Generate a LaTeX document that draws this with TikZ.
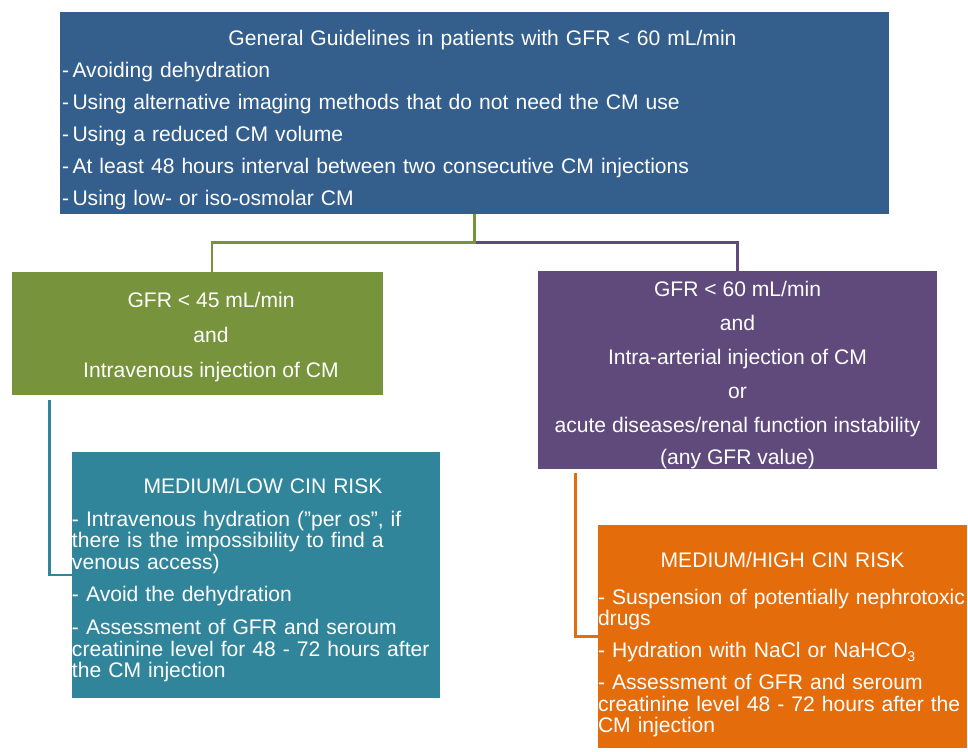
\documentclass[tikz,border=0pt]{standalone}
\usepackage{fontspec}
\setmainfont{Liberation Sans}
\definecolor{guideblue}{RGB}{52,94,140}
\definecolor{ivgreen}{RGB}{119,147,60}
\definecolor{iapurple}{RGB}{96,74,123}
\definecolor{lowteal}{RGB}{49,133,155}
\definecolor{highorange}{RGB}{228,108,10}
\tikzstyle{block} = [rectangle, inner sep=0pt, text=white, font=\fontsize{12}{12.2}\selectfont]
\tikzstyle{listblock} = [block, align=left]
\tikzstyle{condblock} = [block, align=center]
\tikzstyle{link} = [line width=1.7pt]

\begin{document}
\begin{tikzpicture}

\useasboundingbox (0,0) rectangle (19.36,-15.04);

\node (guide) [listblock, fill=guideblue, minimum width=16.58cm, minimum height=4.04cm, inner xsep=0.04cm, text width=16.5cm] at (9.49,-2.26) {\rule{0pt}{16.8pt}\hspace*{\fill}\hspace*{0.32cm}General Guidelines in patients with GFR < 60 mL/min\hspace*{\fill}\null\\[6pt]
-\,Avoiding dehydration\\[6pt]
-\,Using alternative imaging methods that do not need the CM use\\[6pt]
-\,Using a reduced CM volume\\[6pt]
-\,At least 48 hours interval between two consecutive CM injections\\[6pt]
-\,Using low- or iso-osmolar CM};

\node (low) [condblock, fill=ivgreen, minimum width=7.42cm, minimum height=2.46cm] at (3.95,-6.67) {\rule{0pt}{12.2pt}\hspace*{0.54cm}GFR < 45 mL/min\\[7.7pt]
\hspace*{0.54cm}and\\[7.7pt]
\hspace*{0.54cm}Intravenous injection of CM};

\node (high) [condblock, fill=iapurple, minimum width=7.98cm, minimum height=3.92cm] at (14.75,-7.40) {\rule{0pt}{14.5pt}GFR < 60 mL/min\\[7.15pt]
and\\[7.15pt]
Intra-arterial injection of CM\\[7.15pt]
or\\[7.15pt]
acute diseases/renal function instability\\[6pt]
(any GFR value)};

\node (lowrisk) [listblock, fill=lowteal, minimum width=7.36cm, minimum height=4.92cm, text width=7.36cm] at (5.12,-11.50) {\rule{0pt}{14.5pt}\hspace*{\fill}\hspace*{0.28cm}MEDIUM/LOW CIN RISK\hspace*{\fill}\null\\[6.5pt]
- Intravenous hydration (”per os”, if\\
there is the impossibility to find a\\
venous access)\\[6pt]
- Avoid the dehydration\\[7pt]
- Assessment of GFR and seroum\\
creatinine level for 48 - 72 hours after\\
the CM injection};

\node (highrisk) [listblock, fill=highorange, minimum width=7.38cm, minimum height=4.46cm, text width=7.38cm] at (15.65,-12.73) {\rule{0pt}{18pt}\hspace*{\fill}MEDIUM/HIGH CIN RISK\hspace*{\fill}\null\\[8.9pt]
- Suspension of potentially nephrotoxic\\
drugs\\[6pt]
- Hydration with NaCl or NaHCO\textsubscript{3}\\[6pt]
- Assessment of GFR and seroum\\
creatinine level 48 - 72 hours after the\\
CM injection};

\coordinate (split) at ([yshift=-0.56cm]guide.south);

\draw [link, draw=iapurple] (split) -| (high.north);
\draw [link, draw=ivgreen] (guide.south) -- (split) -| ([xshift=0.29cm]low.north);
\draw [link, draw=lowteal] ([xshift=0.76cm, yshift=-0.1cm]low.south west) |- (lowrisk.west);
\draw [link, draw=highorange] ([xshift=0.76cm, yshift=-0.08cm]high.south west) |- (highrisk.west);

\end{tikzpicture}
\end{document}
